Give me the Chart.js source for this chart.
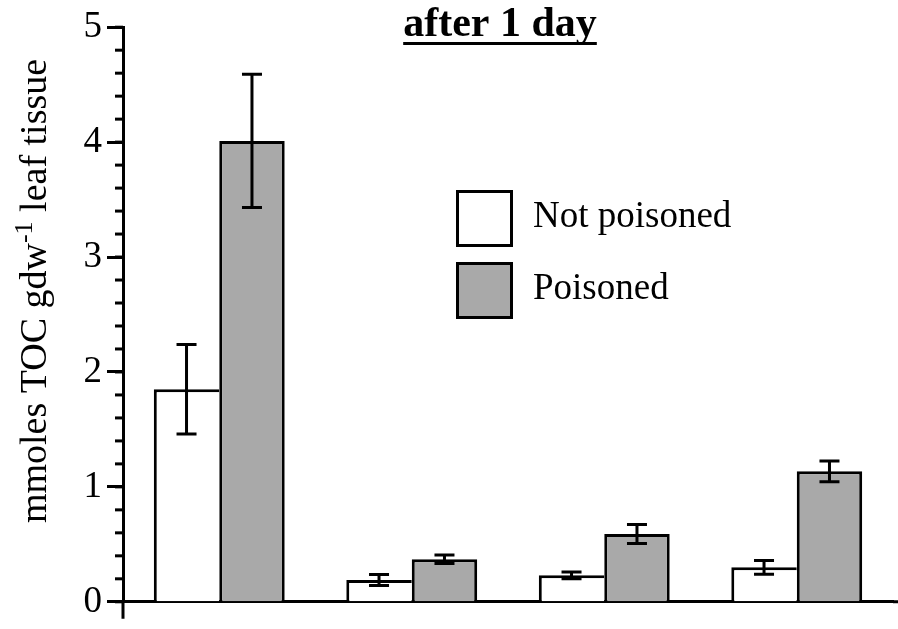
<!DOCTYPE html>
<html>
<head>
<meta charset="utf-8">
<script src="https://cdn.jsdelivr.net/npm/chart.js@4.4.0/dist/chart.umd.min.js"></script>
<style>
  html, body { margin: 0; padding: 0; background: #ffffff; }
  #wrap { width: 898px; height: 629px; position: relative; }
</style>
</head>
<body>
<div id="wrap"><canvas id="c"></canvas></div>
<script>
// ---- data ----
const categories = ['Group 1', 'Group 2', 'Group 3', 'Group 4'];
const notPoisoned = [1.85, 0.19, 0.23, 0.30];
const notPoisonedErr = [0.39, 0.048, 0.03, 0.06];
const poisoned = [4.01, 0.37, 0.59, 1.135];
const poisonedErr = [0.58, 0.037, 0.082, 0.09];
const seriesLabels = ['Not poisoned', 'Poisoned'];
const yTicksMajor = [0, 1, 2, 3, 4, 5];
const yMinorStep = 0.2;
const titleText = 'after 1 day';
const yTitleParts = ['mmoles TOC gdw', '-1', ' leaf tissue'];

const FONT = '"Liberation Serif", "Times New Roman", serif';

const errorBarPlugin = {
  id: 'errorBars',
  afterDatasetsDraw(chart) {
    const ctx = chart.ctx;
    const yScale = chart.scales.y;
    const errs = [notPoisonedErr, poisonedErr];
    ctx.save();
    ctx.strokeStyle = '#000';
    ctx.lineWidth = 3;
    chart.data.datasets.forEach((ds, di) => {
      const meta = chart.getDatasetMeta(di);
      meta.data.forEach((bar, i) => {
        const v = ds.data[i];
        const e = errs[di][i];
        const x = bar.x;
        const yTop = yScale.getPixelForValue(v + e);
        const yBot = yScale.getPixelForValue(v - e);
        const cap = 10;
        ctx.beginPath();
        ctx.moveTo(x, yTop); ctx.lineTo(x, yBot);
        ctx.moveTo(x - cap, yTop); ctx.lineTo(x + cap, yTop);
        ctx.moveTo(x - cap, yBot); ctx.lineTo(x + cap, yBot);
        ctx.stroke();
      });
    });
    ctx.restore();
  }
};

const decorPlugin = {
  id: 'decor',
  afterDraw(chart) {
    const ctx = chart.ctx;
    const ca = chart.chartArea;
    const yScale = chart.scales.y;
    ctx.save();
    ctx.strokeStyle = '#000';
    ctx.fillStyle = '#000';
    // minor ticks
    ctx.lineWidth = 3;
    const yMin = yScale.min, yMax = yScale.max;
    const n = Math.round((yMax - yMin) / yMinorStep);
    for (let k = 0; k <= n; k++) {
      const v = yMin + k * yMinorStep;
      const py = yScale.getPixelForValue(v);
      ctx.beginPath();
      ctx.moveTo(ca.left - 8, py); ctx.lineTo(ca.left, py);
      ctx.stroke();
    }
    // axis extensions
    ctx.beginPath();
    ctx.moveTo(ca.left, ca.bottom); ctx.lineTo(ca.left, ca.bottom + 17);
    ctx.moveTo(ca.right, ca.bottom); ctx.lineTo(chart.width, ca.bottom);
    ctx.stroke();

    // title
    ctx.font = 'bold 42px ' + FONT;
    ctx.textAlign = 'center';
    ctx.textBaseline = 'alphabetic';
    const tx = 500, ty = 36;
    ctx.fillText(titleText, tx, ty);
    const tw = ctx.measureText(titleText).width;
    ctx.fillRect(tx - tw / 2, ty + 6, tw, 3);

    // y axis title with superscript
    ctx.save();
    ctx.translate(46, 291);
    ctx.rotate(-Math.PI / 2);
    const mainFont = '38px ' + FONT;
    const supFont = '26px ' + FONT;
    ctx.font = mainFont; const w0 = ctx.measureText(yTitleParts[0]).width;
    ctx.font = supFont; const w1 = ctx.measureText(yTitleParts[1]).width;
    ctx.font = mainFont; const w2 = ctx.measureText(yTitleParts[2]).width;
    let x0 = -(w0 + w1 + w2) / 2;
    ctx.textAlign = 'left';
    ctx.font = mainFont; ctx.fillText(yTitleParts[0], x0, 0);
    ctx.font = supFont; ctx.fillText(yTitleParts[1], x0 + w0, -14);
    ctx.font = mainFont; ctx.fillText(yTitleParts[2], x0 + w0 + w1, 0);
    ctx.restore();

    // legend
    const lx = 456, ly0 = 190, box = 57, gap = 72;
    chart.data.datasets.forEach((ds, i) => {
      const by = ly0 + i * gap;
      ctx.fillStyle = ds.backgroundColor;
      ctx.fillRect(lx, by, box, box);
      ctx.lineWidth = 3;
      ctx.strokeStyle = '#000';
      ctx.strokeRect(lx + 1.5, by + 1.5, box - 3, box - 3);
      ctx.fillStyle = '#000';
      ctx.font = '37px ' + FONT;
      ctx.textAlign = 'left';
      ctx.textBaseline = 'middle';
      ctx.fillText(ds.label, 533, by + box / 2 - 1);
    });
    ctx.restore();
  }
};

new Chart(document.getElementById('c'), {
  type: 'bar',
  data: {
    labels: categories,
    datasets: [
      {
        label: seriesLabels[0],
        data: notPoisoned,
        backgroundColor: '#ffffff',
        borderColor: '#000000',
        borderWidth: { top: 3, left: 3, right: 0, bottom: 0 },
        borderSkipped: false,
        categoryPercentage: 0.68,
        barPercentage: 1.0
      },
      {
        label: seriesLabels[1],
        data: poisoned,
        backgroundColor: '#a9a9a9',
        borderColor: '#000000',
        borderWidth: { top: 3, left: 3, right: 3, bottom: 0 },
        borderSkipped: false,
        categoryPercentage: 0.68,
        barPercentage: 1.0
      }
    ]
  },
  options: {
    responsive: true,
    maintainAspectRatio: false,
    animation: false,
    devicePixelRatio: 1,
    layout: { padding: { left: 0, top: 24, right: 5, bottom: 0 } },
    plugins: {
      legend: { display: false },
      title: { display: false },
      tooltip: { enabled: false }
    },
    scales: {
      x: {
        ticks: { display: false },
        grid: { display: false },
        border: { display: true, color: '#000', width: 3 },
        afterFit(scale) { scale.height = 27; }
      },
      y: {
        min: 0,
        max: 5,
        afterBuildTicks(scale) { scale.ticks = yTicksMajor.map(v => ({ value: v })); },
        ticks: {
          color: '#000',
          font: { family: FONT, size: 37 },
          padding: 5,
          callback: (v) => String(v)
        },
        grid: {
          display: true,
          drawOnChartArea: false,
          drawTicks: true,
          tickLength: 16,
          tickWidth: 3,
          tickColor: '#000'
        },
        border: { display: true, color: '#000', width: 3 },
        afterFit(scale) { scale.width = 123; }
      }
    }
  },
  plugins: [errorBarPlugin, decorPlugin]
});
</script>
</body>
</html>
